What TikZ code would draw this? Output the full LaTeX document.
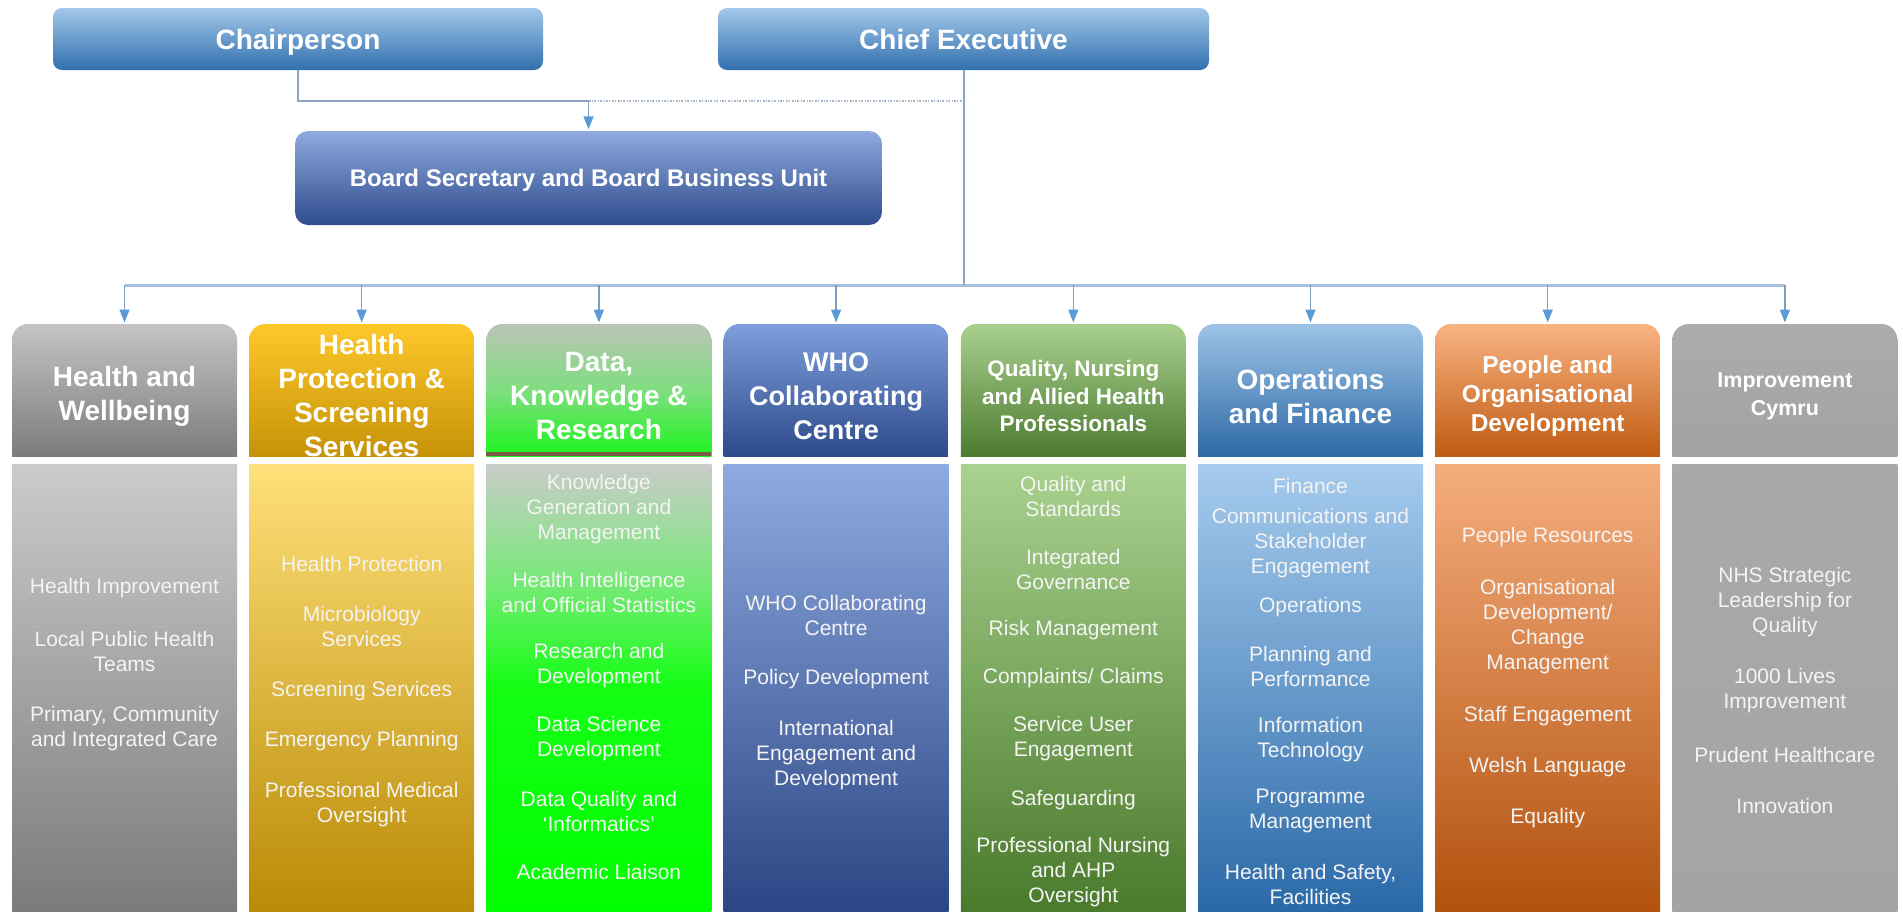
\documentclass[tikz,border=0pt]{standalone}
\usepackage{fontspec}
\setmainfont{Liberation Sans}
\usetikzlibrary{arrows.meta}
\definecolor{trunkc}{HTML}{8EA3BF}
\definecolor{busc}{HTML}{A6BFDC}
\definecolor{dropc}{HTML}{7F9CC2}
\definecolor{tipc}{HTML}{5B9BD5}
\definecolor{dotc}{HTML}{A8B6CA}
\definecolor{bodyt}{HTML}{F4F4F4}
% top boxes
\definecolor{ctop}{HTML}{A2C7EA}
\definecolor{cmid}{HTML}{5D9CD8}
\definecolor{cbot}{HTML}{3170AD}
\definecolor{stop}{HTML}{8EAADF}
\definecolor{smid}{HTML}{4F74C6}
\definecolor{sbot}{HTML}{2F4C8C}
% column colours
\definecolor{gAh}{HTML}{C4C4C4}\definecolor{gAb}{HTML}{7C7C7C}
\definecolor{gAt}{HTML}{CBCBCB}\definecolor{gAd}{HTML}{7B7B7B}
\definecolor{yAh}{HTML}{FEC82A}\definecolor{yAb}{HTML}{C69308}
\definecolor{yAt}{HTML}{FFE07A}\definecolor{yAm}{HTML}{FBBE1E}\definecolor{yAd}{HTML}{B98B05}
\definecolor{wAh}{HTML}{7F9FDC}\definecolor{wAb}{HTML}{2D4A8A}
\definecolor{wAt}{HTML}{8EAAE0}\definecolor{wAm}{HTML}{4E72C4}\definecolor{wAd}{HTML}{2B4684}
\definecolor{qAh}{HTML}{A9D18E}\definecolor{qAb}{HTML}{4D7B31}
\definecolor{qAt}{HTML}{A9D28F}\definecolor{qAd}{HTML}{4A7A2C}
\definecolor{oAh}{HTML}{9DC3E6}\definecolor{oAb}{HTML}{2E6AA6}
\definecolor{oAt}{HTML}{A6CBED}\definecolor{oAd}{HTML}{2A69A8}
\definecolor{pAh}{HTML}{F8B382}\definecolor{pAb}{HTML}{C05B12}
\definecolor{pAt}{HTML}{F5AD7D}\definecolor{pAd}{HTML}{B2520E}
\definecolor{iAh}{HTML}{ACACAC}\definecolor{iAb}{HTML}{A2A2A2}
\definecolor{iAt}{HTML}{A9A9A9}\definecolor{iAd}{HTML}{A4A4A4}
\definecolor{brownc}{HTML}{7A5A48}
% column 3 custom shadings
\definecolor{dkrHa}{HTML}{BCC4B6}
\definecolor{dkrHb}{HTML}{7FDE7F}
\definecolor{dkrHc}{HTML}{1CF51C}
\definecolor{dkrBa}{HTML}{C9CBC9}
\definecolor{dkrBb}{HTML}{7CE87C}
\definecolor{dkrBc}{HTML}{14FF14}
\definecolor{dkrBd}{HTML}{00FF00}
\pgfdeclareverticalshading{dkrhead}{100bp}{color(0bp)=(dkrHc); color(25bp)=(dkrHc); color(50bp)=(dkrHb); color(75bp)=(dkrHa); color(100bp)=(dkrHa)}
\pgfdeclareverticalshading{dkrbody}{100bp}{color(0bp)=(dkrBd); color(25bp)=(dkrBd); color(50bp)=(dkrBc); color(62.5bp)=(dkrBb); color(75bp)=(dkrBa); color(100bp)=(dkrBa)}
\newcommand{\hdrbg}[2]{%
  \begin{scope}
    \clip[rounded corners=16pt] (#1,324) rectangle ++(225,160);
    \shade[#2] (#1,324) rectangle ++(225,132);
  \end{scope}}
\newcommand{\bodybg}[2]{%
  \shade[#2] (#1,464) rectangle ++(225,447);}
\tikzset{
  topbox/.style={rounded corners=9pt, text=white,
    font=\bfseries\fontsize{28}{34}\selectfont, inner sep=0pt, text height=20pt, text depth=0pt},
  hdr/.style={align=center, text=white, inner sep=0pt},
  bt/.style={align=center, text=bodyt, inner sep=0pt, font=\fontsize{21}{25}\selectfont},
  trunk/.style={draw=trunkc, line width=2pt},
  busline/.style={draw=busc, line width=3pt},
  drop/.style={draw=dropc, line width=1.3pt, shorten >=1.5pt, -{Triangle[color=tipc,width=10pt,length=13pt]}},
  dotline/.style={draw=dotc, line width=1.6pt, dash pattern=on 2pt off 1.5pt on 0.8pt off 1.5pt},
}
\begin{document}
\begin{tikzpicture}[x=1pt,y=-1pt]
\useasboundingbox (0,0) rectangle (1903,911);
% ---------- column backgrounds ----------
\hdrbg{12}{top color=gAh,bottom color=gAb}
\bodybg{12}{top color=gAt,bottom color=gAd}
\hdrbg{249.2}{top color=yAh,bottom color=yAb}
\bodybg{249.2}{top color=yAt,middle color=yAm,bottom color=yAd}
\hdrbg{486.4}{shading=dkrhead}
\fill[brownc] (486.4,452) rectangle ++(225,4);
\bodybg{486.4}{shading=dkrbody}
\hdrbg{723.6}{top color=wAh,bottom color=wAb}
\bodybg{723.6}{top color=wAt,middle color=wAm,bottom color=wAd}
\hdrbg{960.8}{top color=qAh,bottom color=qAb}
\bodybg{960.8}{top color=qAt,bottom color=qAd}
\hdrbg{1198}{top color=oAh,bottom color=oAb}
\bodybg{1198}{top color=oAt,bottom color=oAd}
\hdrbg{1435.2}{top color=pAh,bottom color=pAb}
\bodybg{1435.2}{top color=pAt,bottom color=pAd}
\hdrbg{1672.4}{top color=iAh,bottom color=iAb}
\bodybg{1672.4}{top color=iAt,bottom color=iAd}
% ---------- top boxes ----------
\node[topbox, minimum width=490pt, minimum height=62pt, top color=ctop, middle color=cmid, bottom color=cbot] (chair) at (298,39) {Chairperson};
\node[topbox, minimum width=491pt, minimum height=62pt, top color=ctop, middle color=cmid, bottom color=cbot] (ceo) at (963.5,39) {Chief Executive};
\node[topbox, rounded corners=13pt, minimum width=587pt, minimum height=94pt, top color=stop, middle color=smid, bottom color=sbot,
  font=\bfseries\fontsize{24}{29}\selectfont, text height=17pt] (bsec) at (588.5,178) {Board Secretary and Board Business Unit};
% ---------- column headers ----------
\node[hdr, font=\bfseries\fontsize{28}{34}\selectfont] (h1) at (124.5,396) {Health and\\Wellbeing};
\node[hdr, font=\bfseries\fontsize{28}{34}\selectfont] (h2) at (361.7,395) {Health\\Protection \&\\Screening\\Services};
\node[hdr, font=\bfseries\fontsize{28}{34}\selectfont] (h3) at (598.9,396) {Data,\\Knowledge \&\\Research};
\node[hdr, font=\bfseries\fontsize{27}{34}\selectfont] (h4) at (836.1,396) {WHO\\Collaborating\\Centre};
\node[hdr, font=\bfseries\fontsize{22.5}{27.5}\selectfont] (h5) at (1073.3,396) {Quality, Nursing\\and Allied Health\\Professionals};
\node[hdr, font=\bfseries\fontsize{28}{34}\selectfont] (h6) at (1310.5,396) {Operations\\and Finance};
\node[hdr, font=\bfseries\fontsize{24.5}{29}\selectfont] (h7) at (1547.7,396) {People and\\Organisational\\Development};
\node[hdr, font=\bfseries\fontsize{21.5}{28}\selectfont] (h8) at (1784.9,396) {Improvement\\Cymru};
% ---------- column bodies ----------
\node[bt] (a1) at (124.5,588.4) {Health Improvement};
\node[bt] (a2) at (124.5,651.6) {Local Public Health\\Teams};
\node[bt] (a3) at (124.5,728.7) {Primary, Community\\and Integrated Care};
\node[bt] (b1) at (361.7,564.1) {Health Protection};
\node[bt] (b2) at (361.7,626.7) {Microbiology\\Services};
\node[bt] (b3) at (361.7,691.5) {Screening Services};
\node[bt] (b4) at (361.7,741.3) {Emergency Planning};
\node[bt] (b5) at (361.7,804.5) {Professional Medical\\Oversight};
\node[bt] (c1) at (598.9,509) {Knowledge\\Generation and\\Management};
\node[bt] (c2) at (598.9,592.7) {Health Intelligence\\and Official Statistics};
\node[bt] (c3) at (598.9,665.6) {Research and\\Development};
\node[bt] (c4) at (598.9,738.4) {Data Science\\Development};
\node[bt] (c5) at (598.9,811.2) {Data Quality and\\‘Informatics’};
\node[bt] (c6) at (598.9,872.4) {Academic Liaison};
\node[bt] (d1) at (836.1,615.2) {WHO Collaborating\\Centre};
\node[bt] (d2) at (836.1,679.4) {Policy Development};
\node[bt] (d3) at (836.1,754.8) {International\\Engagement and\\Development};
\node[bt] (e1) at (1073.3,496.9) {Quality and\\Standards};
\node[bt] (e2) at (1073.3,569.7) {Integrated\\Governance};
\node[bt] (e3) at (1073.3,629.6) {Risk Management};
\node[bt] (e4) at (1073.3,678.2) {Complaints/ Claims};
\node[bt] (e5) at (1073.3,738.4) {Service User\\Engagement};
\node[bt] (e6) at (1073.3,799.6) {Safeguarding};
\node[bt] (e7) at (1073.3,871.9) {Professional Nursing\\and AHP\\Oversight};
\node[bt] (f1) at (1310.5,486.4) {Finance};
\node[bt] (f2) at (1310.5,543) {Communications and\\Stakeholder\\Engagement};
\node[bt] (f3) at (1310.5,606.6) {Operations};
\node[bt] (f4) at (1310.5,666.8) {Planning and\\Performance};
\node[bt] (f5) at (1310.5,739.6) {Information\\Technology};
\node[bt] (f6) at (1310.5,811.2) {Programme\\Management};
\node[bt] (f7) at (1310.5,884) {Health and Safety,\\Facilities};
\node[bt] (g1) at (1547.7,537.4) {People Resources};
\node[bt] (g2) at (1547.7,626.7) {Organisational\\Development/\\Change\\Management};
\node[bt] (g3) at (1547.7,715.8) {Staff Engagement};
\node[bt] (g4) at (1547.7,766.8) {Welsh Language};
\node[bt] (g5) at (1547.7,817.8) {Equality};
\node[bt] (k1) at (1784.9,602.5) {NHS Strategic\\Leadership for\\Quality};
\node[bt] (k2) at (1784.9,690.4) {1000 Lives\\Improvement};
\node[bt] (k3) at (1784.9,754.6) {Prudent Healthcare};
\node[bt] (k4) at (1784.9,805.6) {Innovation};
% ---------- connectors ----------
\coordinate (bus) at (0,285);
\coordinate (jn) at (0,101);
\coordinate (htop) at (0,324);
\draw[dotline] (bsec.north |- jn) -- (ceo.south |- jn);
\draw[trunk] (chair.south) -- (chair.south |- jn) -- (bsec.north |- jn);
\draw[drop] (bsec.north |- jn) -- (bsec.north);
\draw[busline] (h1.center |- bus) -- (h8.center |- bus);
\draw[trunk] (ceo.south) -- (ceo.south |- bus);
\foreach \i in {1,...,8} { \draw[drop] (h\i.center |- bus) -- (h\i.center |- htop); }
\end{tikzpicture}
\end{document}
